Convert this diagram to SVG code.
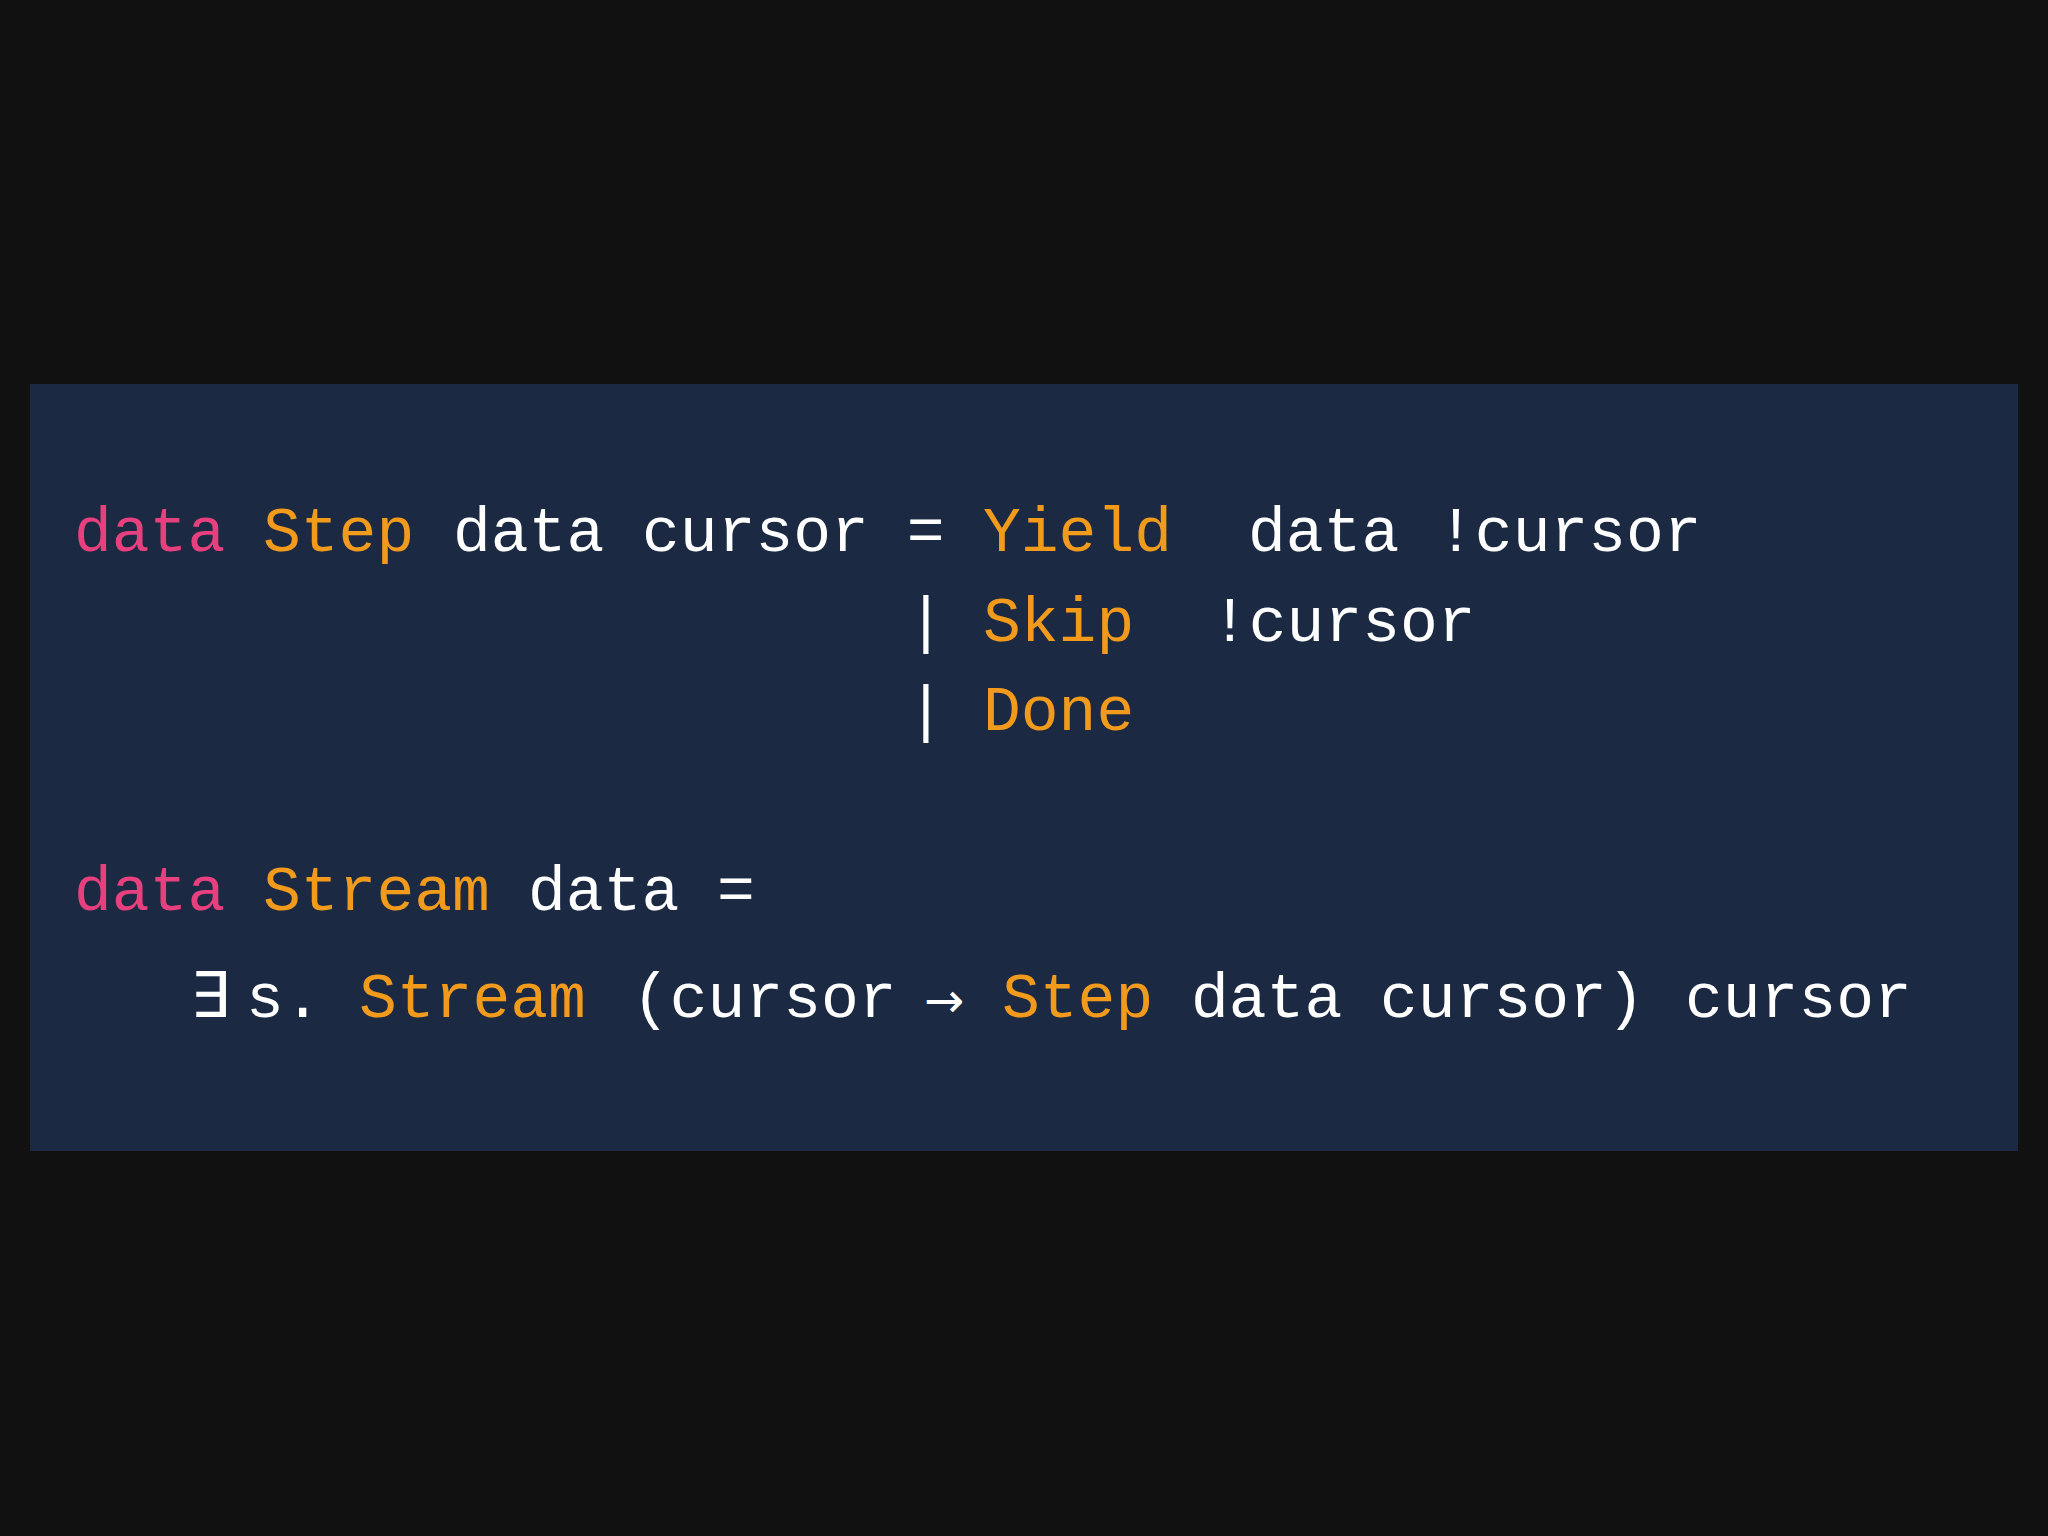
<svg xmlns="http://www.w3.org/2000/svg" width="2048" height="1536" viewBox="0 0 2048 1536">
<style>
text{font-family:"Liberation Mono","DejaVu Sans Mono",monospace;font-size:63px;white-space:pre}
.k{fill:#e8407e}.t{fill:#f29a1c}.w{fill:#ffffff}
</style>
<rect width="2048" height="1536" fill="#111111"/>
<rect x="30" y="384" width="1988" height="767" fill="#1b2a42"/>
<g id="code">
<text y="551" xml:space="preserve"><tspan x="74" class="k">data</tspan><tspan x="263" class="t">Step</tspan><tspan x="453" class="w">data cursor =</tspan><tspan x="983" class="t">Yield</tspan><tspan x="1248" class="w">data !cursor</tspan></text>
<text y="641" xml:space="preserve"><tspan x="907" class="w">|</tspan><tspan x="983" class="t">Skip</tspan><tspan x="1211" class="w">!cursor</tspan></text>
<text y="730" xml:space="preserve"><tspan x="907" class="w">|</tspan><tspan x="983" class="t">Done</tspan></text>
<text y="910" xml:space="preserve"><tspan x="74" class="k">data</tspan><tspan x="263" class="t">Stream</tspan><tspan x="528" class="w">data =</tspan></text>
<text y="1017" xml:space="preserve"><tspan x="190" class="w" font-family="DejaVu Sans">∃</tspan><tspan x="246" class="w">s.</tspan><tspan x="359" class="t">Stream</tspan><tspan x="632" class="w">(cursor</tspan><tspan x="924" class="w" font-family="DejaVu Sans" font-size="48">→</tspan><tspan x="1002" class="t">Step</tspan><tspan x="1191" class="w">data cursor)</tspan><tspan x="1685" class="w">cursor</tspan></text>
</g>
</svg>
